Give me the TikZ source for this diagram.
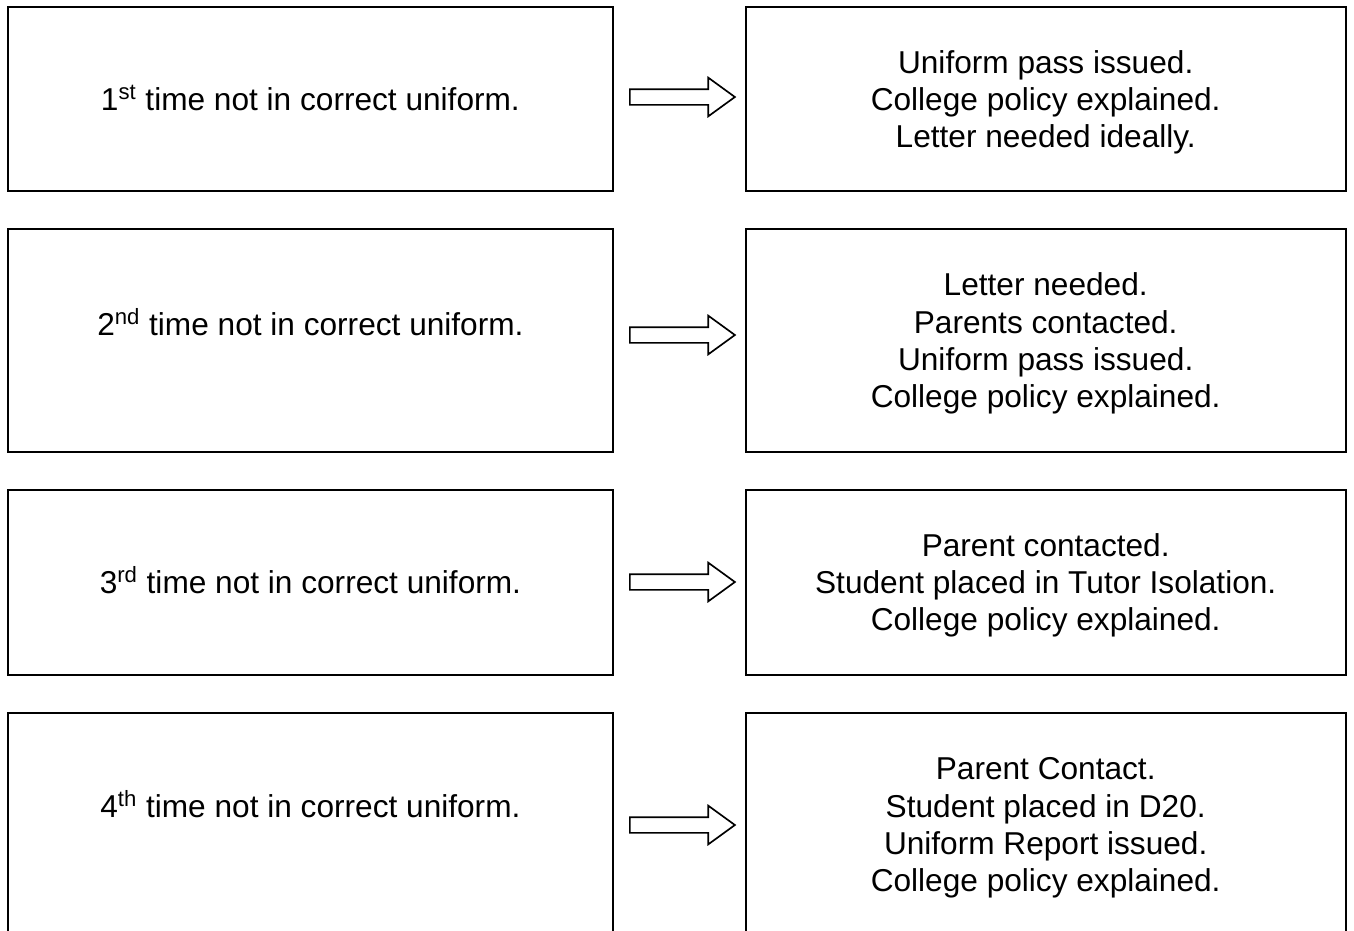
\documentclass[tikz,border=0pt]{standalone}
\usepackage{fontspec}
\setmainfont{Liberation Sans}
\usetikzlibrary{shapes.arrows, positioning}

\begin{document}
\begin{tikzpicture}[
    x=0.02cm, y=-0.02cm,
    box/.style={rectangle, draw, line width=1.1pt, minimum width=12.1cm, inner sep=0pt},
    outcome/.style={box, minimum width=12cm, align=center, text depth=0pt,
                    font=\fontsize{18}{21.2}\selectfont},
    stage/.style={font=\fontsize{18}{21.2}\selectfont},
    pass/.style={single arrow, draw, line width=0.95pt, minimum height=2.1cm,
                 inner xsep=0pt, inner ysep=0.14cm, single arrow head extend=0.23cm,
                 single arrow tip angle=72},
    node distance=0.72cm and 2.62cm
  ]
    \useasboundingbox (0,0) rectangle (1354,930);

    \node[box, minimum height=3.68cm, anchor=north west] (l1) at (7,6) {};
    \node[box, minimum height=4.46cm, below=of l1] (l2) {};
    \node[box, minimum height=3.70cm, below=of l2] (l3) {};
    \node[box, minimum height=4.48cm, below=of l3] (l4) {};

    \node[outcome, minimum height=3.68cm, right=of l1] (r1) {Uniform pass issued.\\College policy explained.\\Letter needed ideally.};
    \node[outcome, minimum height=4.46cm, right=of l2] (r2) {Letter needed.\\Parents contacted.\\Uniform pass issued.\\College policy explained.};
    \node[outcome, minimum height=3.70cm, right=of l3] (r3) {Parent contacted.\\Student placed in Tutor Isolation.\\College policy explained.};
    \node[outcome, minimum height=4.48cm, right=of l4] (r4) {Parent Contact.\\Student placed in D20.\\Uniform Report issued.\\College policy explained.};

    \node[stage] (t1) at ([yshift=-1.84cm]l1.north) {1\textsuperscript{st} time not in correct uniform.};
    \node[stage] (t2) at ([yshift=-1.88cm]l2.north) {2\textsuperscript{nd} time not in correct uniform.};
    \node[stage] (t3) at ([yshift=-1.82cm]l3.north) {3\textsuperscript{rd} time not in correct uniform.};
    \node[stage] (t4) at ([yshift=-1.84cm]l4.north) {4\textsuperscript{th} time not in correct uniform.};

    \node[pass] (a1) at (677,97) {};
    \node[pass] (a2) at (677,335) {};
    \node[pass] (a3) at (677,582) {};
    \node[pass] (a4) at (677,825) {};
  \end{tikzpicture}
\end{document}
